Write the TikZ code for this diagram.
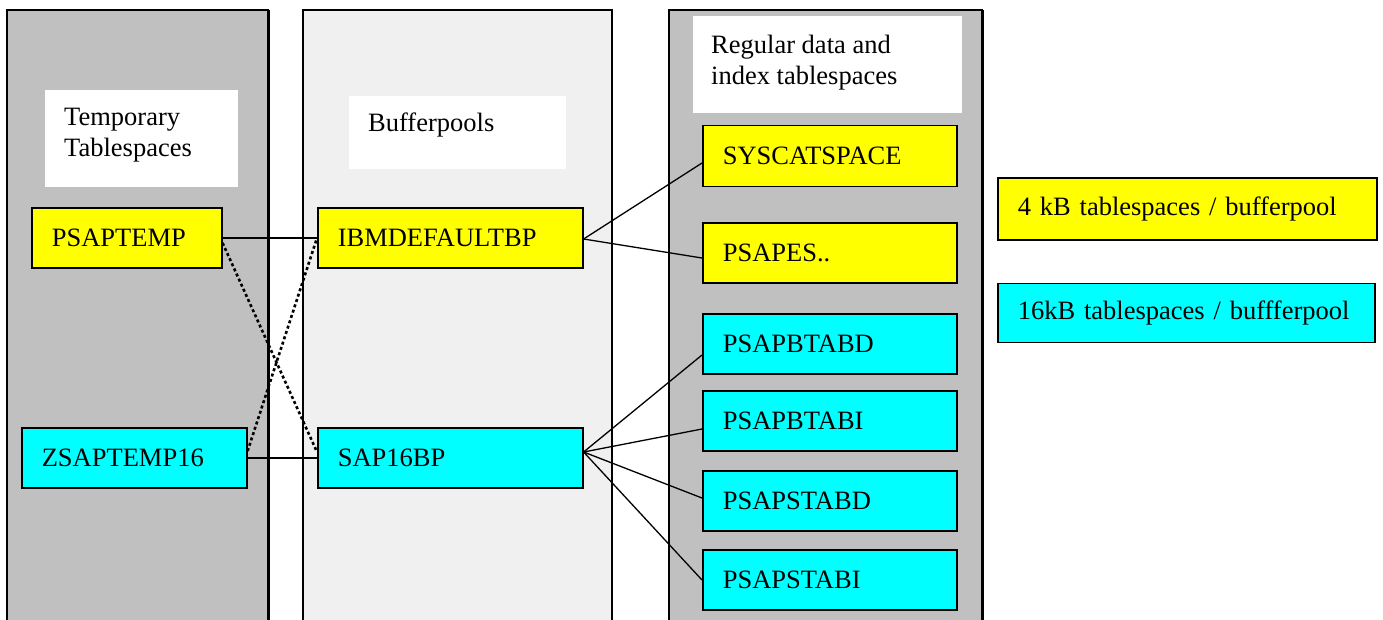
\documentclass[tikz,border=0pt]{standalone}
\usepackage{fontspec}
\setmainfont{Liberation Serif}
\usepackage{tikz}
\usetikzlibrary{positioning}

\definecolor{panelgray}{RGB}{192,192,192}
\definecolor{panellight}{RGB}{240,240,240}
\definecolor{tsyellow}{RGB}{255,255,0}
\definecolor{tscyan}{RGB}{0,255,255}

\begin{document}
\begin{tikzpicture}[
    x=1pt, y=-1pt,
    every node/.style={font=\fontsize{26.5}{31}\selectfont},
    panel/.style={line width=1.8pt},
    caption/.style={anchor=north west, inner sep=0pt, align=left},
    tsbox/.style={draw, line width=1.6pt, anchor=west, minimum height=60,
        inner xsep=20pt, inner ysep=0pt, align=left},
    yellowbox/.style={tsbox, fill=tsyellow},
    cyanbox/.style={tsbox, fill=tscyan},
    link/.style={line width=1.3pt},
    dotlink/.style={line width=2.6pt, dash pattern=on 3pt off 2.6pt}
]
\clip (0,0) rectangle (1383,619);

% ==================== PANELS ====================
\filldraw[panel, fill=panelgray] (7,640) -- (7,10) -- (268,10) -- (268,640);
\draw[line width=3pt] (268,10) -- (268,640);
\filldraw[panel, fill=panellight] (303,640) -- (303,10) -- (612,10) -- (612,640);
\filldraw[panel, fill=panelgray] (669,640) -- (669,10) -- (982,10) -- (982,640);
\draw[line width=3pt] (982,10) -- (982,640);

% Panel captions
\fill[white] (45,90) rectangle (238,187);
\node[caption] (tempcap) at (64,108) {Temporary\\Tablespaces};
\fill[white] (349,96) rectangle (566,169);
\node[caption] (poolcap) at (368,113) {Bufferpools};
\fill[white] (693,16) rectangle (962,113);
\node[caption] (regcap) at (711,35) {Regular data and\\index tablespaces};

% ==================== TEMPORARY TABLESPACES ====================
\node[yellowbox, text width=150] (psaptemp) at (31,238) {PSAPTEMP};
\node[cyanbox, text width=185] (zsaptemp) at (21,458) {ZSAPTEMP16};

% ==================== BUFFERPOOLS ====================
\node[yellowbox, text width=225] (ibmdefault) at (317,238) {IBMDEFAULTBP};
\node[cyanbox, text width=225] (sap16bp) at (317,458) {SAP16BP};

% ==================== REGULAR TABLESPACES ====================
\node[yellowbox, text width=214, minimum height=61] (syscat) at (702,156) {SYSCATSPACE};
\node[yellowbox, text width=214] (psapes) at (702,253) {PSAPES..};
\node[cyanbox, text width=214] (btabd) at (702,344) {PSAPBTABD};
\node[cyanbox, text width=214] (btabi) at (702,421) {PSAPBTABI};
\node[cyanbox, text width=214] (stabd) at (702,501) {PSAPSTABD};
\node[cyanbox, text width=214] (stabi) at (702,580) {PSAPSTABI};

% ==================== LEGEND ====================
\node[yellowbox, text width=339, minimum height=62] (legend4) at (997,209) {4 kB tablespaces / bufferpool};
\node[cyanbox, text width=337, minimum height=59] (legend16) at (997,313) {16kB tablespaces / buffferpool};

% ==================== CONNECTIONS ====================
% Temporary tablespaces to bufferpools
\draw[link] (psaptemp.east) -- (ibmdefault.west);
\draw[link] (zsaptemp.east) -- (sap16bp.west);
\draw[dotlink] ([yshift=-5]psaptemp.east) -- ([yshift=6]sap16bp.west);
\draw[dotlink] ([yshift=7]zsaptemp.east) -- (ibmdefault.west);

% Bufferpools to tablespaces
\draw[link] ([yshift=-1]ibmdefault.east) -- ([yshift=-7]syscat.west);
\draw[link] ([yshift=-1]ibmdefault.east) -- ([yshift=-5]psapes.west);
\draw[link] ([yshift=6]sap16bp.east) -- ([yshift=-11]btabd.west);
\draw[link] ([yshift=6]sap16bp.east) -- ([yshift=-8]btabi.west);
\draw[link] ([yshift=6]sap16bp.east) -- ([yshift=3]stabd.west);
\draw[link] ([yshift=6]sap16bp.east) -- (stabi.west);

\end{tikzpicture}
\end{document}
